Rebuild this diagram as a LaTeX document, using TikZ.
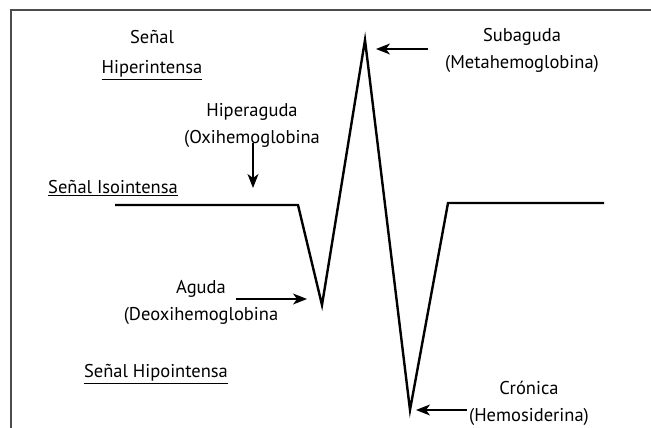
\documentclass[tikz,border=0pt]{standalone}
\usepackage{fontspec}
\setmainfont{PT Sans}
\usetikzlibrary{positioning,arrows.meta}

\begin{document}
\begin{tikzpicture}[x=1pt,y=-1pt,
  flecha/.style={-{Stealth[length=14pt,width=11pt,inset=4pt]},line width=1.1pt},
  senal/.style={line width=2.4pt,line join=miter}]
\tikzstyle{every node}=[inner sep=1pt,font=\fontsize{18.5}{27}\selectfont,align=center]
\useasboundingbox (0,0) rectangle (651,428);
% marco
\draw[line width=1.5pt,black!70] (11,428) -- (11,10) -- (651,10);
% curva de la senal
\coordinate (s0) at (115,205);
\coordinate (s1) at (298,205);
\coordinate (agu) at (322,305);
\coordinate (sub) at (365,40);
\coordinate (cro) at (410,410);
\coordinate (s2) at (448,203);
\coordinate (s3) at (604,203);
\draw[senal] (s0) -- (s1) -- (agu) -- (sub) -- (cro) -- (s2) -- (s3);
% textos
\node (hiper) at (152,55) {Señal\\[3pt]\underline{Hiperintensa}};
\node (iso) at (113,188) {\underline{Señal Isointensa}};
\node (hipo) at (156,374) {\underline{Señal Hipointensa}};
\node (hag) at (252,125) {Hiperaguda\\(Oxihemoglobina};
\node (ag) at (201,302) {Aguda\\(Deoxihemoglobina};
\node (sa) at (522,50) {Subaguda\\(Metahemoglobina)};
\node (cr) at (529,403) {Crónica\\(Hemosiderina)};
% flechas
\coordinate (hags) at (253,143); \coordinate (hagt) at (253,188);
\coordinate (ags) at (236,299);  \coordinate (agt) at (307,299);
\coordinate (sas) at (428,49);   \coordinate (sat) at (376,49);
\coordinate (crs) at (467,410);  \coordinate (crt) at (416,410);
\draw[flecha] (hags) -- (hagt);
\draw[flecha] (ags) -- (agt);
\draw[flecha] (sas) -- (sat);
\draw[flecha] (crs) -- (crt);
\end{tikzpicture}
\end{document}
